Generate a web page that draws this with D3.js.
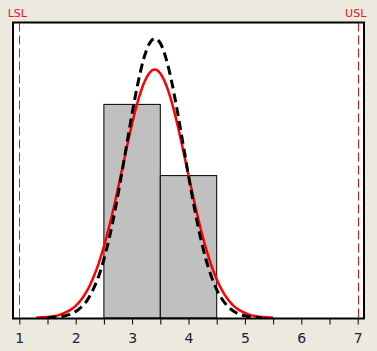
<!DOCTYPE html>
<html>
<head>
<meta charset="utf-8">
<script src="https://cdn.jsdelivr.net/npm/d3@7"></script>
<style>
  body { margin: 0; background: #ECE9DF; }
  svg { display: block; }
</style>
</head>
<body>
<svg id="chart"></svg>
<script>
// Histogram bins (lower edge, upper edge, count)
const binStart = [2.5, 3.5];
const binEnd = [3.5, 4.5];
const binCount = [6, 4];

// Spec limits
const specNames = ['LSL', 'USL'];
const specValues = [1, 7];

// x axis ticks
const tickValues = [1, 1.5, 2, 2.5, 3, 3.5, 4, 4.5, 5, 5.5, 6, 6.5, 7];
const tickLabels = ['1', '', '2', '', '3', '', '4', '', '5', '', '6', '', '7'];

// Solid red fitted curve
const fitX = [1.3, 1.4, 1.5, 1.6, 1.7, 1.8, 1.9, 2.0, 2.1, 2.2, 2.3, 2.4, 2.5, 2.6, 2.7, 2.8, 2.9,
  3.0, 3.1, 3.2, 3.3, 3.4, 3.5, 3.6, 3.7, 3.8, 3.9, 4.0, 4.1, 4.2, 4.3, 4.4, 4.5, 4.6, 4.7, 4.8,
  4.9, 5.0, 5.1, 5.2, 5.3, 5.4, 5.5];
const fitY = [0.01, 0.02, 0.03, 0.05, 0.08, 0.14, 0.22, 0.34, 0.52, 0.76, 1.09, 1.50, 2.01, 2.61,
  3.28, 4.01, 4.75, 5.46, 6.08, 6.56, 6.87, 6.98, 6.87, 6.56, 6.08, 5.46, 4.75, 4.01, 3.28, 2.61,
  2.01, 1.50, 1.09, 0.76, 0.52, 0.34, 0.22, 0.14, 0.08, 0.05, 0.03, 0.02, 0.01];

// Dashed black curve
const overallX = [1.5, 1.6, 1.7, 1.8, 1.9, 2.0, 2.1, 2.2, 2.3, 2.4, 2.5, 2.6, 2.7, 2.8, 2.9, 3.0,
  3.1, 3.2, 3.3, 3.4, 3.5, 3.6, 3.7, 3.8, 3.9, 4.0, 4.1, 4.2, 4.3, 4.4, 4.5, 4.6, 4.7, 4.8, 4.9,
  5.0, 5.1, 5.2, 5.3];
const overallY = [0.01, 0.02, 0.03, 0.06, 0.10, 0.18, 0.31, 0.49, 0.77, 1.14, 1.65, 2.28, 3.04,
  3.91, 4.83, 5.74, 6.57, 7.25, 7.69, 7.85, 7.72, 7.30, 6.65, 5.83, 4.92, 4.00, 3.13, 2.35, 1.70,
  1.19, 0.80, 0.52, 0.32, 0.19, 0.11, 0.06, 0.03, 0.02, 0.01];

const W = 377, H = 351;
const plot = { left: 13, right: 364, top: 22.5, bottom: 318.5 };

const svg = d3.select('#chart').attr('width', W).attr('height', H);

const x = d3.scaleLinear().domain([1, 7]).range([19.3, 357.7]);
const y = d3.scaleLinear().domain([0, 8.3]).range([318, 22.5]);

// plot background
svg.append('rect')
  .attr('x', plot.left).attr('y', plot.top)
  .attr('width', plot.right - plot.left).attr('height', plot.bottom - plot.top)
  .attr('fill', '#fff');

svg.append('clipPath').attr('id', 'clip')
  .append('rect')
  .attr('x', plot.left).attr('y', plot.top)
  .attr('width', plot.right - plot.left).attr('height', plot.bottom - plot.top);

const g = svg.append('g').attr('clip-path', 'url(#clip)');

// bars
g.selectAll('.bar')
  .data(binCount)
  .enter().append('rect')
  .attr('class', 'bar')
  .attr('x', (d, i) => x(binStart[i]))
  .attr('y', d => y(d))
  .attr('width', (d, i) => x(binEnd[i]) - x(binStart[i]))
  .attr('height', d => y(0) - y(d))
  .attr('fill', '#C0C0C0')
  .attr('stroke', '#000')
  .attr('stroke-width', 1);

// spec limit lines
g.selectAll('.spec')
  .data(specValues)
  .enter().append('line')
  .attr('x1', d => Math.round(x(d)) + 0.5).attr('x2', d => Math.round(x(d)) + 0.5)
  .attr('y1', plot.top).attr('y2', plot.bottom)
  .attr('stroke', '#E8101A')
  .attr('stroke-width', 1)
  .attr('stroke-dasharray', '9,4');

const line = d3.line()
  .x(d => x(d[0]))
  .y(d => y(d[1]))
  .curve(d3.curveMonotoneX);

// red fitted curve
g.append('path')
  .datum(fitX.map((v, i) => [v, fitY[i]]))
  .attr('d', line)
  .attr('fill', 'none')
  .attr('stroke', '#FF0000')
  .attr('stroke-width', 2.5);

// dashed black curve
g.append('path')
  .datum(overallX.map((v, i) => [v, overallY[i]]))
  .attr('d', line)
  .attr('fill', 'none')
  .attr('stroke', '#000')
  .attr('stroke-width', 3)
  .attr('stroke-dasharray', '9,5');

// plot border
svg.append('rect')
  .attr('x', plot.left).attr('y', plot.top)
  .attr('width', plot.right - plot.left).attr('height', plot.bottom - plot.top)
  .attr('fill', 'none')
  .attr('stroke', '#000')
  .attr('stroke-width', 2);

// x axis
const xAxis = d3.axisBottom(x)
  .tickValues(tickValues)
  .tickSize(6)
  .tickPadding(9)
  .tickFormat((d, i) => tickLabels[i]);

const ax = svg.append('g')
  .attr('transform', `translate(0, ${plot.bottom})`)
  .call(xAxis);
ax.select('.domain').remove();
ax.selectAll('line').attr('stroke', '#000');
ax.selectAll('text')
  .attr('fill', '#1E2044')
  .style('font-family', '"DejaVu Sans", Verdana, sans-serif')
  .style('font-size', '14px');

// spec labels
svg.selectAll('.speclabel')
  .data(specNames)
  .enter().append('text')
  .attr('class', 'speclabel')
  .attr('x', (d, i) => x(specValues[i]) - 2)
  .attr('y', 17)
  .attr('text-anchor', 'middle')
  .attr('fill', '#F0102A')
  .style('font-family', '"DejaVu Sans", Verdana, sans-serif')
  .style('font-size', '11px')
  .text(d => d);
</script>
</body>
</html>
